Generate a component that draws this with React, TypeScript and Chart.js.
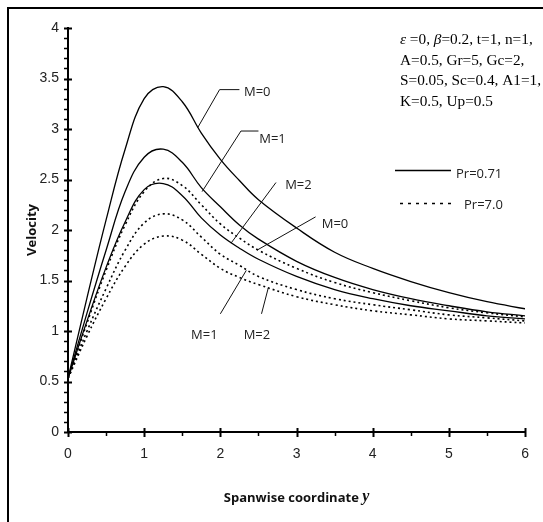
import React, { useEffect, useRef } from "react";
import { Chart, registerables } from "chart.js";
Chart.register(...registerables);

// Spanwise coordinate y (x-axis)
const spanwise = [0, 0.25, 0.5, 0.75, 1.0, 1.25, 1.5, 1.75, 2.0, 2.25, 2.5, 3.0, 3.5, 4.0, 4.5, 5.0, 5.5, 6.0];

// Velocity, Pr = 0.71 (solid)
const pr071M0 = [0.53, 1.33, 2.1, 2.8, 3.3, 3.42, 3.27, 2.96, 2.7, 2.49, 2.3, 2.02, 1.78, 1.62, 1.49, 1.38, 1.29, 1.22];
const pr071M1 = [0.53, 1.18, 1.8, 2.38, 2.72, 2.8, 2.67, 2.42, 2.23, 2.05, 1.91, 1.69, 1.53, 1.41, 1.32, 1.25, 1.19, 1.15];
const pr071M2 = [0.53, 1.1, 1.63, 2.08, 2.4, 2.46, 2.34, 2.12, 1.95, 1.82, 1.71, 1.54, 1.41, 1.32, 1.25, 1.2, 1.15, 1.12];

// Velocity, Pr = 7.0 (dotted)
const pr7M0 = [0.53, 1.08, 1.6, 2.05, 2.38, 2.51, 2.44, 2.25, 2.06, 1.92, 1.8, 1.62, 1.48, 1.38, 1.3, 1.23, 1.18, 1.14];
const pr7M1 = [0.53, 1.0, 1.42, 1.8, 2.07, 2.16, 2.1, 1.93, 1.76, 1.65, 1.54, 1.41, 1.32, 1.26, 1.21, 1.16, 1.13, 1.1];
const pr7M2 = [0.53, 0.95, 1.32, 1.64, 1.86, 1.94, 1.9, 1.76, 1.62, 1.53, 1.46, 1.34, 1.26, 1.2, 1.16, 1.12, 1.1, 1.08];

const legendLabels = ["Pr=0.71", "Pr=7.0"];
const paramLines = [
  [["\u03b5", true], [" =0, ", false], ["\u03b2", true], ["=0.2, t=1, n=1,", false]],
  [["A=0.5, Gr=5, Gc=2,", false]],
  [["S=0.05, Sc=0.4, A1=1,", false]],
  [["K=0.5, Up=0.5", false]],
] as [string, boolean][][];

// Curve labels with leader lines, in data units
const curveLabels = [
  { text: "M=0", lx: 2.31, ly: 3.36, align: "left", path: [[2.25, 3.39], [1.99, 3.39], [1.7, 3.01]] },
  { text: "M=1", lx: 2.51, ly: 2.9, align: "left", path: [[2.5, 2.98], [2.27, 2.98], [1.76, 2.38]] },
  { text: "M=2", lx: 2.85, ly: 2.44, align: "left", path: [[2.73, 2.47], [2.14, 1.87]] },
  { text: "M=0", lx: 3.33, ly: 2.06, align: "left", path: [[3.25, 2.13], [2.48, 1.8]] },
  { text: "M=1", lx: 1.79, ly: 0.96, align: "center", path: [[2.0, 1.17], [2.34, 1.6]] },
  { text: "M=2", lx: 2.48, ly: 0.96, align: "center", path: [[2.54, 1.17], [2.63, 1.43]] },
];

const SANS = "'Open Sans', 'Noto Sans', sans-serif";
const SERIF = "'Liberation Serif', 'Times New Roman', serif";
const TICKFONT = "'Liberation Sans', Arial, sans-serif";

const decorPlugin = {
  id: "decor",
  afterDraw(chart: any) {
    const ctx = chart.ctx as CanvasRenderingContext2D;
    const xs = chart.scales.x;
    const ys = chart.scales.y;
    const area = chart.chartArea;
    ctx.save();

    // outer frame (left and top)
    ctx.fillStyle = "#000";
    ctx.fillRect(7, 7, 2, chart.height);
    ctx.fillRect(7, 7, chart.width, 2);

    // ticks
    ctx.strokeStyle = "#000";
    for (let i = 0; i <= 40; i++) {
      const v = i / 10;
      const py = Math.round(ys.getPixelForValue(v)) + 0.5;
      ctx.beginPath();
      if (i % 5 === 0) {
        ctx.lineWidth = 2;
        ctx.moveTo(area.left - 4, py);
        ctx.lineTo(area.left + 4, py);
      } else {
        ctx.lineWidth = 1.5;
        ctx.moveTo(area.left - 4, py);
        ctx.lineTo(area.left, py);
      }
      ctx.stroke();
    }
    for (let i = 0; i <= 12; i++) {
      const v = i / 2;
      const px = Math.round(xs.getPixelForValue(v)) + 0.5;
      ctx.beginPath();
      if (i % 2 === 0) {
        ctx.lineWidth = 2;
        ctx.moveTo(px, area.bottom - 4);
        ctx.lineTo(px, area.bottom + 5);
      } else {
        ctx.lineWidth = 1.5;
        ctx.moveTo(px, area.bottom);
        ctx.lineTo(px, area.bottom + 4);
      }
      ctx.stroke();
    }

    // curve labels and leaders
    ctx.lineWidth = 1;
    ctx.strokeStyle = "#111";
    ctx.fillStyle = "#222";
    ctx.font = `13px ${SANS}`;
    ctx.textBaseline = "middle";
    for (const lab of curveLabels) {
      ctx.beginPath();
      lab.path.forEach(([x, y], k) => {
        const px = xs.getPixelForValue(x);
        const py = ys.getPixelForValue(y);
        if (k === 0) ctx.moveTo(px, py);
        else ctx.lineTo(px, py);
      });
      ctx.stroke();
      ctx.textAlign = lab.align as CanvasTextAlign;
      ctx.fillText(lab.text, xs.getPixelForValue(lab.lx), ys.getPixelForValue(lab.ly));
    }

    // legend
    ctx.lineWidth = 1.3;
    ctx.strokeStyle = "#000";
    ctx.beginPath();
    ctx.moveTo(395, 170.5);
    ctx.lineTo(451, 170.5);
    ctx.stroke();
    ctx.setLineDash([3, 5]);
    ctx.lineWidth = 1.5;
    ctx.beginPath();
    ctx.moveTo(400, 203.5);
    ctx.lineTo(456, 203.5);
    ctx.stroke();
    ctx.setLineDash([]);
    ctx.textAlign = "left";
    ctx.fillStyle = "#222";
    ctx.fillText(legendLabels[0], 456, 174);
    ctx.fillText(legendLabels[1], 464, 205);

    // parameter block
    ctx.fillStyle = "#000";
    ctx.textBaseline = "middle";
    paramLines.forEach((segs, li) => {
      let x = 400;
      const y = 40 + li * 20.5;
      for (const [t, it] of segs) {
        ctx.font = `${it ? "italic " : ""}15.3px ${SERIF}`;
        ctx.fillText(t, x, y);
        x += ctx.measureText(t).width;
      }
    });

    // axis titles
    ctx.fillStyle = "#111";
    ctx.font = `bold 13px ${SANS}`;
    ctx.save();
    ctx.translate(32, (area.top + area.bottom) / 2);
    ctx.rotate(-Math.PI / 2);
    ctx.textAlign = "center";
    ctx.fillText("Velocity", 0, 0);
    ctx.restore();

    const t1 = "Spanwise coordinate ";
    const t2 = "y";
    ctx.font = `bold 13px ${SANS}`;
    const w1 = ctx.measureText(t1).width;
    ctx.font = `bold italic 16px ${SERIF}`;
    const w2 = ctx.measureText(t2).width;
    const cx = (area.left + area.right) / 2;
    const startX = cx - (w1 + w2) / 2;
    ctx.textAlign = "left";
    ctx.font = `bold 13px ${SANS}`;
    ctx.fillText(t1, startX, 498);
    ctx.font = `bold italic 16px ${SERIF}`;
    ctx.fillText(t2, startX + w1, 497);

    ctx.restore();
  },
};

export default function App() {
  const ref = useRef<HTMLCanvasElement>(null);
  useEffect(() => {
    const canvas = ref.current!;
    const series = [
      { values: pr071M0, dash: [] as number[] },
      { values: pr071M1, dash: [] as number[] },
      { values: pr071M2, dash: [] as number[] },
      { values: pr7M0, dash: [2, 3] },
      { values: pr7M1, dash: [2, 3] },
      { values: pr7M2, dash: [2, 3] },
    ];
    const chart = new Chart(canvas, {
      type: "line",
      data: {
        datasets: series.map((s) => ({
          data: spanwise.map((x, i) => ({ x, y: s.values[i] })),
          borderColor: "#000",
          borderWidth: s.dash.length ? 1.6 : 1.3,
          borderDash: s.dash,
          pointRadius: 0,
          fill: false,
          tension: 0.4,
        })),
      },
      options: {
        responsive: false,
        animation: false,
        events: [],
        layout: { padding: { top: 28, right: 16, left: 0, bottom: 0 } },
        plugins: { legend: { display: false }, tooltip: { enabled: false } },
        scales: {
          x: {
            type: "linear",
            min: 0,
            max: 6,
            afterFit: (s: any) => {
              s.height = 90;
            },
            grid: { display: false, drawTicks: false },
            border: { display: true, color: "#000", width: 2 },
            ticks: { stepSize: 1, padding: 14, color: "#222", font: { family: TICKFONT, size: 14 } },
          },
          y: {
            type: "linear",
            min: 0,
            max: 4,
            afterFit: (s: any) => {
              s.width = 68;
            },
            grid: { display: false, drawTicks: false },
            border: { display: true, color: "#000", width: 2 },
            ticks: {
              stepSize: 0.5,
              padding: 9,
              color: "#222",
              font: { family: TICKFONT, size: 14 },
              callback: (v: any) => String(Number(v)),
            },
          },
        },
      },
      plugins: [decorPlugin],
    } as any);
    return () => chart.destroy();
  }, []);
  return (
    <div style={{ position: "absolute", left: 0, top: 0, width: 543, height: 522, background: "#fff", overflow: "hidden" }}>
      <canvas ref={ref} width={543} height={522} style={{ display: "block", width: 543, height: 522 }} />
    </div>
  );
}
